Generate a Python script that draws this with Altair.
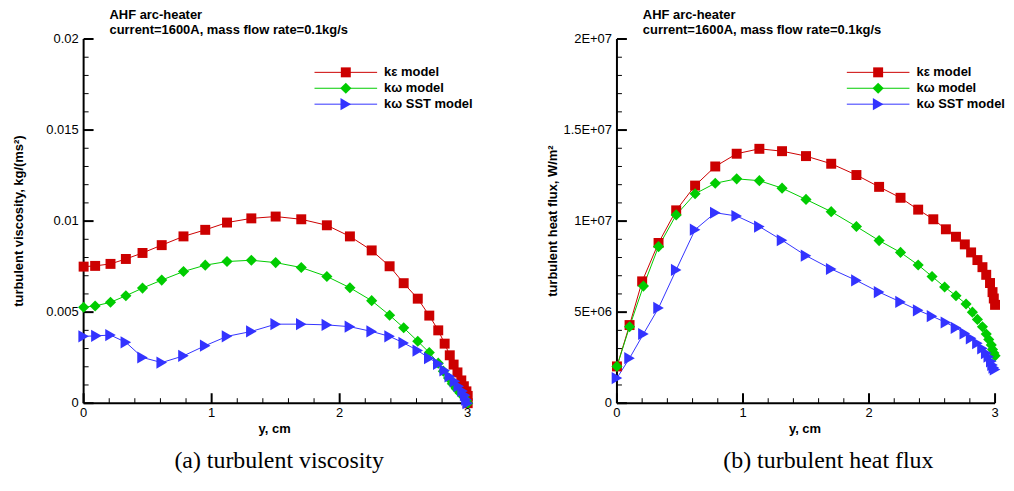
import altair as alt
import pandas as pd

MODELS = ["kε model", "kω model", "kω SST model"]
COLORS = ["#CC0000", "#00CC00", "#3333FF"]
SHAPES = ["square", "diamond", "triangle-right"]
SIZES = [100, 150, 140]
AXIS_COLOR = "#000000"

# ---------- (a) turbulent viscosity ----------
visc_ke_x = [0.00, 0.09, 0.21, 0.33, 0.46, 0.61, 0.78, 0.95, 1.12, 1.31, 1.50, 1.70, 1.90, 2.08,
             2.25, 2.39, 2.50, 2.61, 2.70, 2.77, 2.82, 2.86, 2.89, 2.92, 2.95, 2.97, 2.99, 3.00, 3.00]
visc_ke_y = [0.00750, 0.00754, 0.00765, 0.00792, 0.00825, 0.00868, 0.00916, 0.00952, 0.00992,
             0.01015, 0.01025, 0.01010, 0.00977, 0.00916, 0.00839, 0.00752, 0.00659, 0.00574,
             0.00481, 0.00400, 0.00327, 0.00263, 0.00212, 0.00169, 0.00125, 0.00093, 0.00065,
             0.00040, 0.00000]
visc_kw_x = [0.00, 0.09, 0.21, 0.33, 0.46, 0.61, 0.78, 0.95, 1.12, 1.31, 1.50, 1.70, 1.90, 2.08,
             2.25, 2.39, 2.50, 2.61, 2.70, 2.77, 2.81, 2.85, 2.88, 2.91, 2.94, 2.97, 2.99, 3.00]
visc_kw_y = [0.00527, 0.00534, 0.00554, 0.00590, 0.00632, 0.00676, 0.00723, 0.00758, 0.00778,
             0.00785, 0.00772, 0.00745, 0.00696, 0.00634, 0.00563, 0.00483, 0.00414, 0.00340,
             0.00278, 0.00220, 0.00176, 0.00138, 0.00107, 0.00080, 0.00056, 0.00034, 0.00015,
             0.00000]
visc_sst_x = [0.00, 0.10, 0.21, 0.33, 0.46, 0.61, 0.78, 0.95, 1.12, 1.31, 1.50, 1.70, 1.90, 2.08,
              2.25, 2.39, 2.50, 2.61, 2.70, 2.77, 2.82, 2.86, 2.90, 2.93, 2.96, 2.98, 2.99, 3.00]
visc_sst_y = [0.00367, 0.00370, 0.00374, 0.00334, 0.00251, 0.00223, 0.00260, 0.00316, 0.00367,
              0.00394, 0.00434, 0.00434, 0.00430, 0.00420, 0.00394, 0.00367, 0.00331, 0.00289,
              0.00247, 0.00216, 0.00180, 0.00147, 0.00120, 0.00093, 0.00067, 0.00044, 0.00020,
              0.00000]

# ---------- (b) turbulent heat flux ----------
flux_ke_x = [0.00, 0.10, 0.20, 0.33, 0.47, 0.62, 0.78, 0.95, 1.13, 1.31, 1.50, 1.70, 1.90, 2.08,
             2.25, 2.39, 2.51, 2.61, 2.69, 2.76, 2.81, 2.86, 2.90, 2.93, 2.96, 2.98, 2.99, 3.00]
flux_ke_y = [2.02e6, 4.29e6, 6.69e6, 8.80e6, 1.059e7, 1.195e7, 1.300e7, 1.370e7, 1.397e7,
             1.384e7, 1.357e7, 1.315e7, 1.253e7, 1.188e7, 1.128e7, 1.063e7, 1.010e7, 9.55e6,
             9.14e6, 8.72e6, 8.28e6, 7.86e6, 7.47e6, 7.05e6, 6.60e6, 6.10e6, 5.75e6, 5.40e6]
flux_kw_x = [0.00, 0.10, 0.21, 0.33, 0.47, 0.62, 0.78, 0.95, 1.13, 1.31, 1.50, 1.70, 1.90, 2.08,
             2.25, 2.39, 2.50, 2.60, 2.69, 2.77, 2.82, 2.86, 2.90, 2.93, 2.95, 2.97, 2.98, 2.99, 3.00]
flux_kw_y = [2.02e6, 4.20e6, 6.43e6, 8.60e6, 1.034e7, 1.150e7, 1.208e7, 1.232e7, 1.222e7,
             1.181e7, 1.119e7, 1.052e7, 9.70e6, 8.93e6, 8.28e6, 7.59e6, 6.96e6, 6.38e6,
             5.90e6, 5.45e6, 5.00e6, 4.60e6, 4.20e6, 3.80e6, 3.50e6, 3.20e6, 2.95e6, 2.75e6, 2.60e6]
flux_sst_x = [0.00, 0.10, 0.21, 0.33, 0.47, 0.62, 0.78, 0.95, 1.13, 1.31, 1.50, 1.70, 1.90, 2.08,
              2.25, 2.39, 2.50, 2.61, 2.69, 2.76, 2.81, 2.86, 2.90, 2.93, 2.95, 2.97, 2.98, 2.99, 3.00]
flux_sst_y = [1.38e6, 2.47e6, 3.80e6, 5.23e6, 7.32e6, 9.53e6, 1.046e7, 1.028e7, 9.70e6,
              8.95e6, 8.10e6, 7.37e6, 6.74e6, 6.10e6, 5.56e6, 5.10e6, 4.78e6, 4.43e6,
              4.14e6, 3.83e6, 3.56e6, 3.29e6, 3.01e6, 2.75e6, 2.55e6, 2.30e6, 2.10e6, 1.95e6, 1.85e6]

# ---------- axis ticks and tick labels ----------
X_MAJOR = [0, 1, 2, 3]
X_LABELS = ["0", "1", "2", "3"]
X_MINOR = [0.2, 0.4, 0.6, 0.8, 1.2, 1.4, 1.6, 1.8, 2.2, 2.4, 2.6, 2.8]
VISC_MAJOR = [0, 0.005, 0.01, 0.015, 0.02]
VISC_LABELS = ["0", "0.005", "0.01", "0.015", "0.02"]
VISC_MINOR = [0.001, 0.002, 0.003, 0.004, 0.006, 0.007, 0.008, 0.009,
              0.011, 0.012, 0.013, 0.014, 0.016, 0.017, 0.018, 0.019]
FLUX_MAJOR = [0, 5e6, 1e7, 1.5e7, 2e7]
FLUX_LABELS = ["0", "5E+06", "1E+07", "1.5E+07", "2E+07"]
FLUX_MINOR = [1e6, 2e6, 3e6, 4e6, 6e6, 7e6, 8e6, 9e6,
              1.1e7, 1.2e7, 1.3e7, 1.4e7, 1.6e7, 1.7e7, 1.8e7, 1.9e7]

TITLE_LINES = ["AHF arc-heater", "current=1600A, mass flow rate=0.1kg/s"]
X_TITLE = "y, cm"
SANS = "Liberation Sans"
SERIF = "Liberation Serif"
LEGEND_LINE = "M-6,0H6"
TICK_UP = "M0,0V-2"      # inward tick on the bottom axis
TICK_RIGHT = "M0,0H2"    # inward tick on the left axis


def frame(xs_list, ys_list):
    rows = []
    for m, xs, ys in zip(MODELS, xs_list, ys_list):
        for i, (x, y) in enumerate(zip(xs, ys)):
            rows.append({"model": m, "i": i, "pos": x, "val": y})
    return pd.DataFrame(rows)


def panel(df, W, H, ymax, ymajor, ylabels, yminor, ytitle, ytitle_x, caption, cap_dx, leg_x):
    xs = alt.Scale(domain=[0, 3], nice=False, zero=False)
    ys = alt.Scale(domain=[0, ymax], nice=False, zero=False)
    cscale = alt.Scale(domain=MODELS, range=COLORS)
    base = alt.Chart(df)

    X = alt.X("pos:Q", scale=xs, axis=None)
    Y = alt.Y("val:Q", scale=ys, axis=None)

    common = dict(orient="none", legendX=leg_x, legendY=27, title=None, symbolSize=110,
                  labelFont=SANS, labelFontSize=13, labelFontWeight="bold", labelColor="black",
                  labelOffset=32, rowPadding=2, padding=0)
    leg_line = alt.Legend(symbolType=LEGEND_LINE, symbolStrokeWidth=1, **common)
    leg_pts = alt.Legend(symbolStrokeWidth=0, symbolOpacity=1, labelOpacity=0, **common)

    lines = base.mark_line(strokeWidth=1).encode(
        x=X, y=Y,
        color=alt.Color("model:N", scale=cscale, legend=leg_line),
        order="i:Q",
    )
    points = base.mark_point(filled=True, opacity=1, strokeWidth=0).encode(
        x=X, y=Y,
        color=alt.Color("model:N", scale=cscale, legend=leg_pts),
        shape=alt.Shape("model:N", scale=alt.Scale(domain=MODELS, range=SHAPES), legend=leg_pts),
        size=alt.Size("model:N", scale=alt.Scale(domain=MODELS, range=SIZES), legend=None),
    )

    # axis lines along the bottom and left edges, spanning the tick range
    dom = pd.DataFrame({
        "pos": [X_MAJOR[0], X_MAJOR[-1], X_MAJOR[0], X_MAJOR[0]],
        "val": [ymajor[0], ymajor[0], ymajor[0], ymajor[-1]],
        "seg": ["bottom", "bottom", "left", "left"],
    })
    domain = alt.Chart(dom).mark_line(color=AXIS_COLOR, strokeWidth=2, opacity=1).encode(
        x=X, y=Y, detail="seg:N")

    # inward ticks: stroked symbols anchored on the axis lines
    def xticks(vals, size, width):
        d = pd.DataFrame({"pos": vals, "val": [ymajor[0]] * len(vals)})
        return alt.Chart(d).mark_point(shape=TICK_UP, size=size, filled=False,
                                       color=AXIS_COLOR, strokeWidth=width, opacity=1
                                       ).encode(x=X, y=Y)

    def yticks(vals, size, width):
        d = pd.DataFrame({"pos": [X_MAJOR[0]] * len(vals), "val": vals})
        return alt.Chart(d).mark_point(shape=TICK_RIGHT, size=size, filled=False,
                                       color=AXIS_COLOR, strokeWidth=width, opacity=1
                                       ).encode(x=X, y=Y)

    xlab = alt.Chart(pd.DataFrame({"pos": X_MAJOR, "lab": X_LABELS})).mark_text(
        font=SANS, fontSize=13, color="black", align="center", baseline="middle"
    ).encode(x=X, y=alt.value(H + 10), text="lab:N")
    ylab = alt.Chart(pd.DataFrame({"val": ymajor, "lab": ylabels})).mark_text(
        font=SANS, fontSize=13, color="black", align="right", baseline="middle"
    ).encode(y=Y, x=alt.value(-5), text="lab:N")
    xtit = alt.Chart(pd.DataFrame({"t": [X_TITLE]})).mark_text(
        font=SANS, fontSize=13, fontWeight="bold", color="black", align="center",
        baseline="middle"
    ).encode(x=alt.value(W / 2 - 1), y=alt.value(H + 26), text="t:N")
    ytit = alt.Chart(pd.DataFrame({"t": [ytitle]})).mark_text(
        font=SANS, fontSize=13, fontWeight="bold", color="black", align="center",
        baseline="middle", angle=270
    ).encode(x=alt.value(ytitle_x), y=alt.value(H / 2), text="t:N")

    layered = alt.layer(
        domain,
        xticks(X_MAJOR, 100, 2), xticks(X_MINOR, 25, 1),
        yticks(ymajor, 100, 2), yticks(yminor, 25, 1),
        lines, points,
        xlab, ylab, xtit, ytit,
    ).resolve_scale(
        color="independent", shape="independent", size="independent"
    ).properties(
        width=W, height=H,
        title=alt.TitleParams(TITLE_LINES, anchor="start", frame="group", dx=26,
                              font=SANS, fontSize=13, fontWeight="bold", color="black",
                              lineHeight=15, offset=-4),
    )
    return alt.vconcat(layered, title=alt.TitleParams(
        caption, orient="bottom", anchor="middle", font=SERIF, fontSize=24,
        fontWeight="normal", color="black", offset=13, dx=cap_dx))


df_a = frame([visc_ke_x, visc_kw_x, visc_sst_x], [visc_ke_y, visc_kw_y, visc_sst_y])
df_b = frame([flux_ke_x, flux_kw_x, flux_sst_x], [flux_ke_y, flux_kw_y, flux_sst_y])

left = panel(df_a, 386, 366, 0.02, VISC_MAJOR, VISC_LABELS, VISC_MINOR,
             "turbulent viscosity, kg/(ms²)", -65, "(a) turbulent viscosity", 36, 257)
right = panel(df_b, 380, 366, 2e7, FLUX_MAJOR, FLUX_LABELS, FLUX_MINOR,
              "turbulent heat flux, W/m²", -64, "(b) turbulent heat flux", 52, 256)

chart = alt.hconcat(left, right, spacing=74).properties(
    padding={"left": 5, "right": 0, "top": 0, "bottom": 0},
    background="white",
).configure_view(stroke=None)

chart.save("out.html", embed_options={"renderer": "svg", "actions": False})
